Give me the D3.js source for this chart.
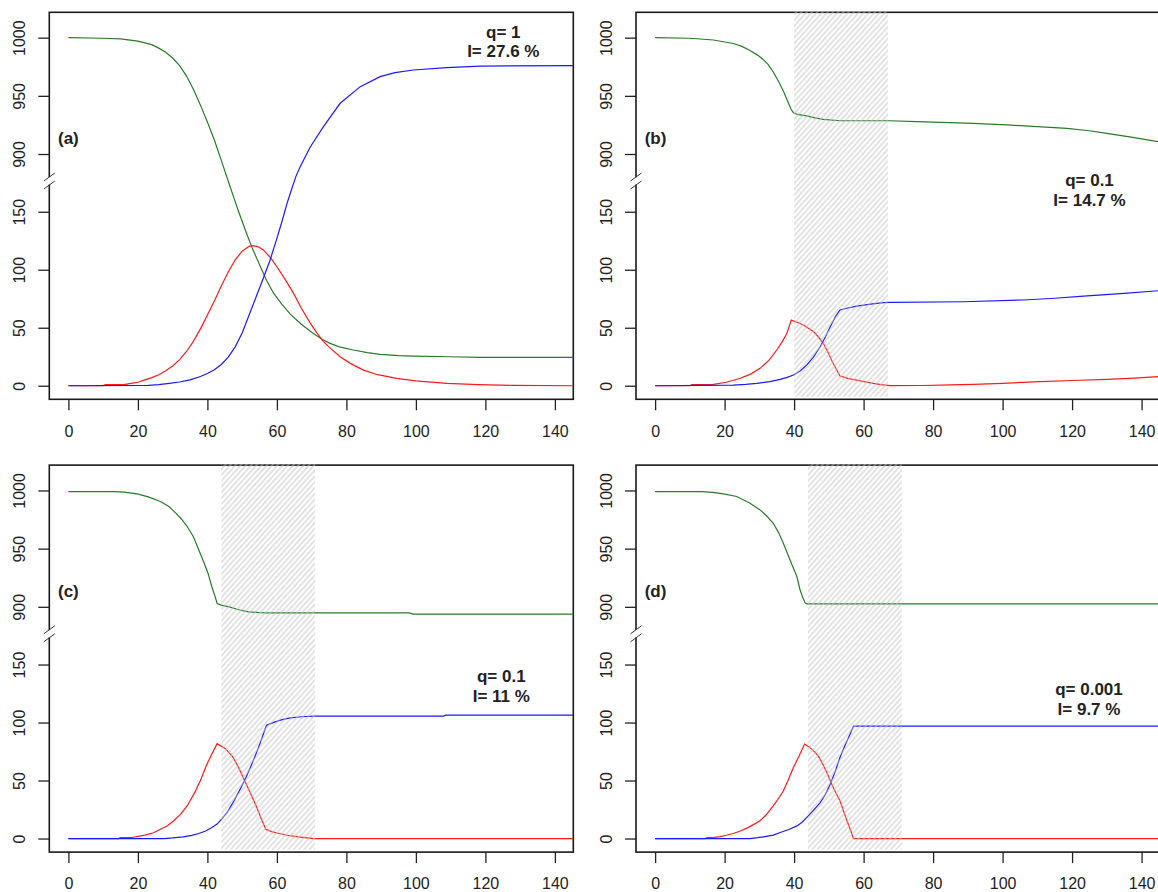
<!DOCTYPE html>
<html>
<head>
<meta charset="utf-8">
<script src="https://cdn.jsdelivr.net/npm/d3@7"></script>
<style>
  body { margin: 0; background: #fff; }
  svg { display: block; font-family: "Liberation Sans", Arial, sans-serif; }
</style>
</head>
<body>
<svg width="1158" height="892"></svg>
<script>
"use strict";

/* ticks */
var dayTicks = [0, 20, 40, 60, 80, 100, 120, 140];
var countTicks = [0, 50, 100, 150, 900, 950, 1000];

/* panel texts */
var panelTags = ["(a)", "(b)", "(c)", "(d)"];
var qLabels = ["q= 1", "q= 0.1", "q= 0.1", "q= 0.001"];
var incLabels = ["I= 27.6 %", "I= 14.7 %", "I= 11 %", "I= 9.7 %"];

/* control windows [start day, end day], null = none */
var windows = [null, [40, 67], [44, 71], [44, 71]];

/* (a) q = 1 : [day, value] */
var susA = [[0,1000],[10,999.5],[15,999],[20,997],[24,994],[26,991],[28,987.5],[30,982.5],[32,976],[34,967],
  [36,955.5],[38,942],[40,927.5],[42,912],[44,894.5],[45,885.5],[46.5,172],[47.5,163],[49,150],[51.3,131],
  [53,118],[55.2,103],[57,91],[59,80],[61.5,70],[63.8,62],[67,53],[70.5,45],[73,40],[75.3,36.5],
  [78,33.5],[82,30.8],[86,28.5],[89.7,27],[95,26],[99.3,25.6],[110,25],[118.5,24.5],[145.3,24.5]];
var infA = [[0,0],[10,0],[10.6,1],[16,1],[18,2],[20,3],[22,5],[24,7],[26,9.5],[28,13],[30,17],[32,22.5],
  [34,29.5],[36,38.5],[38,49],[40,61],[42,73],[44,86],[46,98],[48,108.5],[50,116],[52,120.2],[53,120.7],
  [54.5,120],[56,117.3],[58,111],[60,102.6],[62.5,91],[64.8,79.6],[67,67],[69.6,54],[71.5,45.5],[73.4,38],
  [75.5,32],[78.2,25],[81,19.5],[84.9,13.5],[89,9.5],[94.5,6.4],[100,4.2],[108.9,2],[118,1],[128,0.3],[145.3,0]];
var recA = [[0,0],[23,0.3],[26,1],[29,2],[32,3.2],[35,5],[38,8],[40,10.5],[42,13.8],[44,18.3],[46,24.6],
  [48,33.5],[50,45.5],[52,61],[54,76.5],[56,92],[58,108],[60,127],[61.5,142],[63,158],[64.3,170],[65.5,881],
  [66.7,889],[69.6,906],[73.4,923.5],[78.2,943.6],[84,957.9],[89.7,966.5],[94,970],[99.3,972.2],[108.9,974.2],
  [118.5,975.6],[145.3,976]];

/* (b) q = 0.1 */
var susB = [[0,1000],[10,999.5],[16.8,998],[22.5,995],[25,992.5],[27.3,989],[29.5,985],[31,981.5],[32.5,977],
  [34,970.5],[35.5,962.5],[37,953.5],[38.2,945],[39.2,938],[39.8,935.5],[41,934],[43.6,932.7],[46,931],
  [48.4,929.8],[53.2,928.6],[67.6,928.6],[75.3,927.8],[91.6,926.4],[101.2,925],[110,923.5],[118.5,922],
  [125,920],[130,917.8],[137,914.5],[145.3,910.3]];
var infB = [[0,0],[10,0],[10.6,1],[16.8,1.2],[20.5,3],[24.5,6.4],[27.5,10],[30.2,15],[32.8,22],[35,30.8],
  [36.6,38],[37.9,45],[39.2,56.6],[41,54.5],[42.7,52.3],[45.6,46.6],[47,42],[48.4,36.6],[49.7,29],[50.8,22],
  [52,15],[53.2,8.4],[55.5,6.3],[58,4.9],[60.5,3.3],[62.8,2],[65,1],[67.6,0.1],[77,0.2],[85,0.7],[91.6,1.2],
  [100,2.1],[110.8,3.5],[120,4.5],[130,5.5],[138,6.6],[145.3,7.9]];
var recB = [[0,0],[22.5,0.6],[26,1.2],[29.3,2],[33,3.5],[36,5.5],[38,7.2],[39.8,9.2],[41.8,13],[43.6,17.8],
  [45.5,24.5],[47.5,33.6],[49,42],[50.4,50.9],[52,60],[53.2,65.3],[55.5,67],[58,68.7],[62,70.3],[65.7,71.6],
  [67.6,71.9],[88.7,72.4],[106,73.9],[115,75.4],[123.3,77.3],[135,79.6],[145.3,82]];

/* (c) q = 0.1 */
var susC = [[0,999],[13.2,999],[16,998.5],[19.8,997],[23,994.5],[26.5,990.5],[29,986],[30.9,980.5],
  [32.5,975.5],[34.2,969],[36,960],[37.5,949],[39,938],[40.2,928.7],[41.3,917],[42.2,909],[42.8,902.9],
  [44,901.5],[46.3,900],[49,897.5],[51.8,895.7],[55,895],[57.3,894.8],[98.1,894.8],[99.2,893.7],[145.3,893.7]];
var infC = [[0,0],[14.5,0],[14.9,0.9],[18.3,0.9],[22,2.9],[24.5,5],[26.5,8],[28.5,11],[30.3,15.3],[32.3,21],
  [34.2,28.3],[36.4,40],[38,50],[39.7,63],[41.3,73],[42.8,81.8],[45.2,77.5],[47.4,70],[49,61],[50.7,50],
  [52.4,39],[54,28.3],[55.5,17],[56.8,8],[58.5,6],[60.6,4.3],[63,2.8],[66.1,1.4],[70.6,0],[145.3,0]];
var recC = [[0,0],[27.6,0],[30,0.5],[33,1.4],[35.5,2.7],[37.5,4.3],[39.5,6.5],[41.3,9.5],[42.8,12.5],
  [44.1,16.8],[45.8,23],[47.4,31.2],[49,40],[50.7,50],[52.4,61.5],[54,73],[55.5,85],[57,97.7],[59.5,100.6],
  [61.5,102.5],[63.9,104],[67,105],[70.6,105.5],[108,105.5],[108.6,106.4],[145.3,106.4]];

/* (d) q = 0.001 */
var susD = [[0,999],[13.4,999],[16.5,998.3],[19.7,997],[23.5,994.8],[27.3,989],[30.2,983.3],[32,978.5],
  [34,971.8],[35.5,964],[36.9,954.7],[38.8,940.4],[40.8,926],[41.7,914.6],[42.5,908],[43.2,903.2],
  [43.8,902.5],[145.3,902.5]];
var infD = [[0,0],[14.5,0],[14.9,0.9],[17,1],[18.7,1.7],[20.5,2.8],[22.5,4.3],[24.5,6.5],[26.4,9],[28.3,12],
  [30.2,15.3],[32,20.5],[34,28.2],[35.5,34.5],[36.9,41],[38.3,50.5],[39.8,61.2],[41.5,71.5],[43,81.4],
  [44.3,79],[45.6,75.6],[47,71],[48,65.5],[49.5,56.5],[50.8,46.9],[52,39.5],[53.2,32.5],[54.2,24],
  [55.2,15.3],[56.2,7.5],[57.1,0],[145.3,0]];
var recD = [[0,0],[27.3,0],[29.5,0.7],[31.2,1.5],[34,3],[36,5.2],[38.5,7.8],[40.8,10.9],[42.3,14],[43.6,18],
  [45.5,24],[47.5,31],[49,38],[50.4,46.9],[51.8,57.5],[53.2,69.8],[54.6,80],[56.1,90],[57.1,96.9],[145.3,96.9]];

var susAll = [susA, susB, susC, susD],
    infAll = [infA, infB, infC, infD],
    recAll = [recA, recB, recC, recD];

/* layout */
var svg = d3.select("svg"),
    width = 524,
    height = 387,
    breakY = 168.7,
    origins = [[49.3, 12.3], [636, 12.3], [49.3, 465.1], [636, 465.1]],
    textX = [454, 453.5, 452, 453],
    textY = [25.3, 173.8, 217.2, 230.3];

var x = d3.scaleLinear().domain([-5.5, 145.3]).range([0, width]);
// broken axis: 0..176 below the break, 877..1022 above it
var y = d3.scaleLinear()
    .domain([-11.7, 176.5, 876.8, 1021.8])
    .range([height, breakY, breakY, 0]);

var line = d3.line()
    .x(function(d) { return x(d[0]); })
    .y(function(d) { return y(d[1]); });

var pat = svg.append("defs").append("pattern")
    .attr("id", "hatch")
    .attr("patternUnits", "userSpaceOnUse")
    .attr("width", 10)
    .attr("height", 3.9)
    .attr("patternTransform", "rotate(-48)");
pat.append("line")
    .attr("x1", 0).attr("x2", 10)
    .attr("y1", 1.95).attr("y2", 1.95)
    .attr("stroke", "#c2c2c2")
    .attr("stroke-width", 0.95);

panelTags.forEach(function(tag, i) {
  var g = svg.append("g")
      .attr("transform", "translate(" + origins[i][0] + "," + origins[i][1] + ")");

  // x axis
  var xa = g.append("g")
      .attr("transform", "translate(0," + height + ")")
      .call(d3.axisBottom(x).tickValues(dayTicks).tickSize(11).tickPadding(15));
  xa.select(".domain").remove();
  xa.selectAll("line").attr("stroke", "#222").attr("stroke-width", 1.3);
  xa.selectAll("text").attr("fill", "#222").style("font-size", "16px");

  // y axis, labels parallel to axis
  var ya = g.append("g")
      .call(d3.axisLeft(y).tickValues(countTicks).tickSize(11).tickFormat(d3.format("d")));
  ya.select(".domain").remove();
  ya.selectAll("line").attr("stroke", "#222").attr("stroke-width", 1.3);
  ya.selectAll("text")
      .attr("x", 0).attr("y", 0).attr("dy", null)
      .attr("text-anchor", "middle")
      .attr("transform", "translate(-24,0) rotate(-90)")
      .attr("fill", "#222")
      .style("font-size", "16px");
  g.selectAll(".tick text").attr("font-family", null);

  // frame
  g.append("rect")
      .attr("width", width)
      .attr("height", height)
      .attr("fill", "none")
      .attr("stroke", "#1a1a1a")
      .attr("stroke-width", 1.6);

  // break marks on the y axis
  g.append("rect")
      .attr("x", -2).attr("y", breakY - 3.8)
      .attr("width", 4).attr("height", 7.4)
      .attr("fill", "#fff");
  [-4, 4].forEach(function(off) {
    g.append("line")
        .attr("x1", -5.5).attr("y1", breakY + off + 4)
        .attr("x2", 5.5).attr("y2", breakY + off - 4)
        .attr("stroke", "#333")
        .attr("stroke-width", 1);
  });

  // curves
  [[susAll[i], "#2a7a2a"], [infAll[i], "#ff1a1a"], [recAll[i], "#1a1aff"]].forEach(function(s) {
    g.append("path")
        .datum(s[0])
        .attr("d", line)
        .attr("fill", "none")
        .attr("stroke", s[1])
        .attr("stroke-width", 1.2);
  });

  // hatched control window
  if (windows[i]) {
    g.append("rect")
        .attr("x", x(windows[i][0]))
        .attr("y", -1)
        .attr("width", x(windows[i][1]) - x(windows[i][0]))
        .attr("height", height - 1.5)
        .attr("fill", "url(#hatch)");
  }

  g.append("text")
      .attr("x", 8.7).attr("y", 131.6)
      .attr("font-weight", "bold")
      .style("font-size", "17px")
      .attr("fill", "#222")
      .text(tag);

  g.append("text")
      .attr("x", textX[i]).attr("y", textY[i])
      .attr("text-anchor", "middle")
      .attr("font-weight", "bold")
      .style("font-size", "17px")
      .attr("fill", "#222")
      .text(qLabels[i]);
  g.append("text")
      .attr("x", textX[i]).attr("y", textY[i] + 19.7)
      .attr("text-anchor", "middle")
      .attr("font-weight", "bold")
      .style("font-size", "17px")
      .attr("fill", "#222")
      .text(incLabels[i]);
});
</script>
</body>
</html>
